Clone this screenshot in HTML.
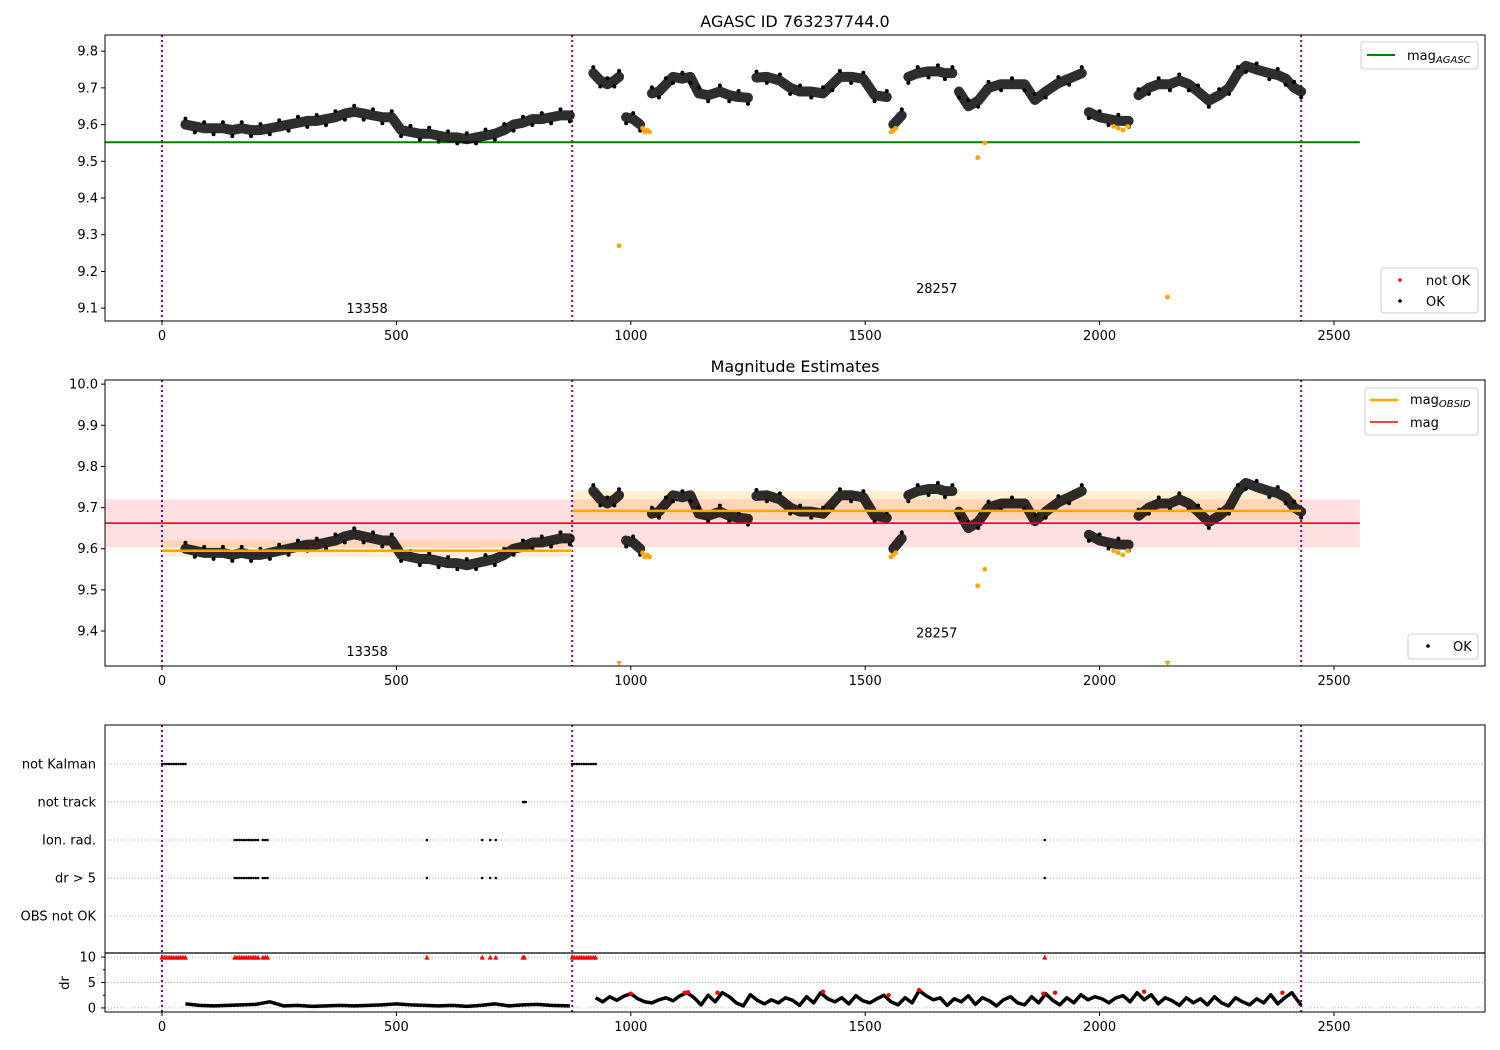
<!DOCTYPE html>
<html><head><meta charset="utf-8">
<style>
body{margin:0;background:#fff;}
svg{display:block;font-family:"DejaVu Sans","Liberation Sans",sans-serif;}
</style></head>
<body>
<svg id="chart" width="1500" height="1050" viewBox="0 0 1500 1050" xmlns="http://www.w3.org/2000/svg"></svg>
<script>
// ---- data ----
const okT = [50,70,90,110,130,150,170,190,210,230,250,270,290,310,330,350,370,390,410,430,450,470,490,510,530,550,570,590,610,630,650,670,690,710,730,750,770,790,810,830,850,870,
920,935,950,965,975,990,1005,1020,1045,1060,1075,1090,1110,1127,1145,1165,1190,1210,1230,1250,1268,1290,1318,1340,1361,1385,1410,1430,1446,1470,1496,1520,1546,1560,1578,
1592,1612,1635,1655,1670,1686,1700,1720,1741,1763,1790,1813,1840,1862,1885,1912,1935,1962,1977,2000,2019,2040,2062,2083,2105,2126,2150,2170,2190,2210,2233,2255,2276,2295,2312,2335,2362,2380,2397,2415,2430];
const okMag = [9.60,9.595,9.59,9.59,9.59,9.585,9.59,9.585,9.585,9.59,9.595,9.60,9.605,9.61,9.61,9.615,9.62,9.63,9.635,9.63,9.625,9.62,9.62,9.585,9.58,9.575,9.575,9.57,9.565,9.565,9.56,9.565,9.57,9.575,9.585,9.60,9.605,9.615,9.615,9.62,9.625,9.625,
9.74,9.72,9.71,9.72,9.73,9.62,9.615,9.60,9.685,9.69,9.71,9.73,9.725,9.73,9.685,9.68,9.69,9.68,9.675,9.673,9.728,9.73,9.72,9.70,9.69,9.69,9.685,9.71,9.73,9.73,9.725,9.68,9.675,9.60,9.625,
9.73,9.74,9.745,9.745,9.74,9.74,9.69,9.65,9.665,9.70,9.71,9.71,9.71,9.667,9.69,9.713,9.725,9.74,9.634,9.62,9.615,9.61,9.61,9.68,9.70,9.71,9.71,9.72,9.71,9.69,9.665,9.68,9.70,9.74,9.76,9.75,9.74,9.735,9.725,9.70,9.69];
const badT = [975,1025,1030,1035,1040,1555,1560,1565,1740,1755,2030,2040,2050,2060,2145];
const badMag = [9.27,9.59,9.58,9.585,9.58,9.58,9.585,9.59,9.51,9.55,9.595,9.59,9.585,9.595,9.13];
const magAgasc = 9.552;
const magAll = 9.662, magAllLo = 9.603, magAllHi = 9.72;
const obsStart = [0,875], obsEnd = [875,2430];
const obsMag = [9.595,9.692], obsLo = [9.58,9.67], obsHi = [9.62,9.74];
const obsIds = ["13358","28257"];
const obsLabelMag1 = [9.10,9.155], obsLabelMag2 = [9.351,9.396];
const vLines = [0,875,2430];
const xTicks = [0,500,1000,1500,2000,2500];
const yTicks1 = [9.1,9.2,9.3,9.4,9.5,9.6,9.7,9.8];
const yTicks2 = [9.4,9.5,9.6,9.7,9.8,9.9,10.0];
const flagNames = ["OBS not OK","dr > 5","Ion. rad.","not track","not Kalman"];
const kalmanT = [0,5,10,15,20,25,30,35,40,45,50,875,880,885,890,895,900,905,910,915,920,925];
const trackT = [770,773,776];
const ionT = [155,160,165,170,175,180,185,190,195,200,205,215,220,225,565,683,700,712,1883];
const drT = [50,80,110,140,170,200,230,260,290,320,350,380,410,440,470,500,530,560,590,620,650,680,710,740,770,800,830,870,
925,940,955,970,985,1000,1015,1030,1045,1060,1075,1090,1105,1120,1135,1150,1165,1180,1195,1210,1225,1240,1255,1270,1285,1300,1315,1330,1345,1360,1375,1390,1405,1420,1435,1450,1465,1480,1495,1510,1525,1540,1555,1570,1585,1600,1615,1630,1645,1660,1675,1690,1705,1720,1735,1750,1765,1780,1795,1810,1825,1840,1855,1870,1885,1900,1915,1930,1945,1960,1975,1990,2005,2020,2035,2050,2065,2080,2095,2110,2125,2140,2155,2170,2185,2200,2215,2230,2245,2260,2275,2290,2305,2320,2335,2350,2365,2380,2395,2410,2430];
const drVal = [0.8,0.5,0.4,0.5,0.6,0.7,1.2,0.4,0.5,0.3,0.4,0.5,0.4,0.5,0.6,0.8,0.6,0.5,0.4,0.5,0.3,0.5,0.8,0.4,0.6,0.7,0.5,0.4,
2.0,1.2,2.2,1.5,2.3,2.8,1.8,1.2,1.0,1.6,2.0,1.4,2.4,3.0,2.0,0.6,2.5,1.2,3.0,2.2,1.0,0.4,2.6,1.5,0.8,1.6,1.0,2.0,1.5,0.5,2.2,1.0,3.0,1.8,1.2,2.0,0.8,2.4,1.4,1.0,1.8,2.5,1.2,0.6,2.0,1.0,3.4,2.4,1.6,2.0,0.5,1.8,1.2,2.4,0.7,2.0,1.4,0.4,1.6,2.2,1.0,0.6,2.2,1.0,2.8,1.5,0.6,2.0,1.0,2.6,1.6,2.2,1.8,1.0,2.0,2.4,1.2,3.0,1.6,2.6,0.8,2.0,1.4,0.5,2.0,1.0,1.8,0.6,2.2,1.0,0.4,2.0,1.2,0.6,1.8,1.0,2.6,0.8,2.0,3.0,0.5];
const drBadT = [1000,1115,1122,1185,1410,1550,1615,1880,1905,2095,2390];
const drBadVal = [2.8,3.0,3.1,3.0,3.2,2.5,3.5,2.8,3.0,3.2,3.0];
const drCapT = [0,5,10,15,20,25,30,35,40,45,50,155,160,165,170,175,180,185,190,195,200,205,215,220,225,565,683,700,712,770,773,875,880,885,890,895,900,905,910,915,920,925,1883];
const drCapVal = drCapT.map(()=>10);

// ---- helpers ----
const svg = document.getElementById('chart');
const NS = 'http://www.w3.org/2000/svg';
function mk(tag, attrs, parent){const e=document.createElementNS(NS,tag);for(const k in attrs)e.setAttribute(k,attrs[k]);(parent||svg).appendChild(e);return e;}
function txt(x,y,s,attrs,parent){const e=mk('text',Object.assign({x:x,y:y},attrs),parent);e.textContent=s;return e;}
const X0=105,X1=1485;
const xs = t => 162 + t*0.4688;
function yScale(top,bot,vmax,vmin){return v=> top + (vmax-v)/(vmax-vmin)*(bot-top);}

function frame(y0,y1,name){
  const r=mk('rect',{x:X0,y:y0,width:X1-X0,height:y1-y0,fill:'none',stroke:'#000','stroke-width':1});
  
  
}
function xAxis(yb,name){
  const g=mk('g',{});
  
  
  xTicks.forEach(t=>{mk('line',{x1:xs(t),x2:xs(t),y1:yb,y2:yb+4,stroke:'#000'},g);txt(xs(t),yb+19,String(t),{'font-size':13,'text-anchor':'middle'},g);});
}
function yAxis(ticks,ys,name){
  const g=mk('g',{});
  
  
  ticks.forEach(v=>{mk('line',{x1:X0-4,x2:X0,y1:ys(v),y2:ys(v),stroke:'#000'},g);txt(X0-7,ys(v)+4.5,v.toFixed(1),{'font-size':13,'text-anchor':'end'},g);});
}
function vlines(y0,y1){
  vLines.forEach(t=>{const l=mk('line',{x1:xs(t),x2:xs(t),y1:y0,y2:y1,stroke:'#800080','stroke-width':2,'stroke-dasharray':'2,3'});
  
  });
}
function okSeries(ys,name){
  const g=mk('g',{});
  
  
  let seg=[];
  const flush=()=>{if(seg.length>1)mk('polyline',{points:seg.join(' '),fill:'none',stroke:'#000','stroke-opacity':0.82,'stroke-width':10,'stroke-linejoin':'round','stroke-linecap':'round'},g);seg=[];};
  okT.forEach((t,i)=>{
    if(i>0 && (t-okT[i-1]>30 || Math.abs(okMag[i]-okMag[i-1])>0.05)) flush();
    seg.push(xs(t)+','+ys(okMag[i]));
  });
  flush();
  okT.forEach((t,i)=>mk('circle',{cx:xs(t),cy:ys(okMag[i])+(i%2?6:-6),r:2,fill:'#000'},g));
}
function badSeries(ys,ymin,yb,name){
  const g=mk('g',{});
  
  
  badT.forEach((t,i)=>{
    if(badMag[i]<ymin){const x=xs(t);mk('path',{d:`M${x-3},${yb-5} L${x+3},${yb-5} L${x},${yb} Z`,fill:'orange'},g);}
    else mk('circle',{cx:xs(t),cy:ys(badMag[i]),r:2.4,fill:'orange'},g);
  });
}

// ---- panel 1 ----
const P1={y0:35,y1:321}; const ys1=yScale(35,321,9.844,9.065);
txt(795,27,'AGASC ID 763237744.0',{'font-size':16,'text-anchor':'middle',});
vlines(P1.y0,P1.y1);
const ag=mk('line',{x1:X0,x2:xs(2555),y1:ys1(magAgasc),y2:ys1(magAgasc),stroke:'green','stroke-width':2});


okSeries(ys1,'ok-points-top');
badSeries(ys1,9.065,P1.y1,'not-ok-points-top');
obsIds.forEach((s,i)=>{const e=txt(xs((obsStart[i]+obsEnd[i])/2),ys1(obsLabelMag1[i])+5,s,{'font-size':13,'text-anchor':'middle'});

});
frame(P1.y0,P1.y1,'top-axes');
xAxis(P1.y1,'top-x-axis'); yAxis(yTicks1,ys1,'top-y-axis');
(function(){
 const g=mk('g',{});
 
 
 mk('rect',{x:1361,y:42,width:117,height:27,rx:3,fill:'#fff',stroke:'#ccc'},g);
 mk('line',{x1:1367,x2:1395,y1:55,y2:55,stroke:'green','stroke-width':2},g);
 const t=txt(1407,60,'mag',{'font-size':13},g); const s=mk('tspan',{'font-size':10,'font-style':'italic',dy:3},t); s.textContent='AGASC';
 const g2=mk('g',{});
 
 
 mk('rect',{x:1381,y:268,width:97,height:45,rx:3,fill:'#fff',stroke:'#ccc'},g2);
 mk('circle',{cx:1400,cy:280,r:1.8,fill:'red'},g2); txt(1426,285,'not OK',{'font-size':13},g2);
 mk('circle',{cx:1400,cy:301,r:1.8,fill:'#000'},g2); txt(1426,306,'OK',{'font-size':13},g2);
})();

// ---- panel 2 ----
const P2={y0:380,y1:666}; const ys2=yScale(380,666,10.01,9.315);
txt(795,372,'Magnitude Estimates',{'font-size':16,'text-anchor':'middle',});
const band=mk('rect',{x:X0,y:ys2(magAllHi),width:xs(2555)-X0,height:ys2(magAllLo)-ys2(magAllHi),fill:'red','fill-opacity':0.12});


obsStart.forEach((s,i)=>{
  const b=mk('rect',{x:xs(s),y:ys2(obsHi[i]),width:xs(obsEnd[i])-xs(s),height:ys2(obsLo[i])-ys2(obsHi[i]),fill:'orange','fill-opacity':0.18});
  
  
});
vlines(P2.y0,P2.y1);
okSeries(ys2,'ok-points-mid');
badSeries(ys2,9.315,P2.y1,'not-ok-points-mid');
obsStart.forEach((s,i)=>{
  const l=mk('line',{x1:xs(s),x2:xs(obsEnd[i]),y1:ys2(obsMag[i]),y2:ys2(obsMag[i]),stroke:'orange','stroke-width':2.5});
  
  
});
const ml=mk('line',{x1:X0,x2:xs(2555),y1:ys2(magAll),y2:ys2(magAll),stroke:'red','stroke-width':1.6});


obsIds.forEach((s,i)=>{const e=txt(xs((obsStart[i]+obsEnd[i])/2),ys2(obsLabelMag2[i])+5,s,{'font-size':13,'text-anchor':'middle'});

});
frame(P2.y0,P2.y1,'mid-axes');
xAxis(P2.y1,'mid-x-axis'); yAxis(yTicks2,ys2,'mid-y-axis');
(function(){
 const g=mk('g',{});
 
 
 mk('rect',{x:1365,y:388,width:113,height:47,rx:3,fill:'#fff',stroke:'#ccc'},g);
 mk('line',{x1:1370,x2:1398,y1:400,y2:400,stroke:'orange','stroke-width':2.5},g);
 const t=txt(1410,404,'mag',{'font-size':13},g); const s=mk('tspan',{'font-size':10,'font-style':'italic',dy:3},t); s.textContent='OBSID';
 mk('line',{x1:1370,x2:1398,y1:422,y2:422,stroke:'red','stroke-width':1.6},g);
 txt(1410,427,'mag',{'font-size':13},g);
 const g2=mk('g',{});
 
 
 mk('rect',{x:1408,y:634,width:70,height:25,rx:3,fill:'#fff',stroke:'#ccc'},g2);
 mk('circle',{cx:1428,cy:646,r:1.8,fill:'#000'},g2); txt(1453,651,'OK',{'font-size':13},g2);
})();

// ---- panel 3 ----
const fy = i => 916 - i*38;
flagNames.forEach((n,i)=>{
  const gl=mk('line',{x1:X0,x2:X1,y1:fy(i),y2:fy(i),stroke:'#b0b0b0','stroke-dasharray':'1,2'});
  
  
  const l=txt(96,fy(i)+4.5,n,{'font-size':13,'text-anchor':'end'});
  
  
});
const ysd=yScale(953,1012,10.8,-0.8);
[0,5,10].forEach(v=>{const gl=mk('line',{x1:X0,x2:X1,y1:ysd(v),y2:ysd(v),stroke:'#b0b0b0','stroke-dasharray':'1,2'});

});
vlines(725,1012);
function flagDots(ts,row,name){
  const g=mk('g',{});
  
  
  ts.forEach(t=>mk('circle',{cx:xs(t),cy:fy(row),r:1.3,fill:'#000'},g));
}
flagDots(kalmanT,4,'flag-not-kalman');
flagDots(trackT,3,'flag-not-track');
flagDots(ionT,2,'flag-ion-rad');
flagDots(ionT,1,'flag-dr5');
(function(){
  const g=mk('g',{});
  
  
  let seg=[];
  const flush=()=>{if(seg.length>1)mk('polyline',{points:seg.join(' '),fill:'none',stroke:'#000','stroke-width':3.5,'stroke-linejoin':'round'},g);seg=[];};
  drT.forEach((t,i)=>{if(i>0&&t-drT[i-1]>40)flush();seg.push(xs(t)+','+ysd(drVal[i]));});
  flush();
  drBadT.forEach((t,i)=>mk('circle',{cx:xs(t),cy:ysd(drBadVal[i]),r:2.2,fill:'red'},g));
  drCapT.forEach((t,i)=>{const x=xs(t),y=ysd(drCapVal[i]);mk('path',{d:`M${x-2.5},${y+2.5} L${x+2.5},${y+2.5} L${x},${y-2.5} Z`,fill:'red'},g);});
})();
mk('rect',{x:X0,y:725,width:X1-X0,height:287,fill:'none',stroke:'#000'});
const sep=mk('line',{x1:X0,x2:X1,y1:953,y2:953,stroke:'#000','stroke-width':1.2});


[0,5,10].forEach(v=>{mk('line',{x1:X0-4,x2:X0,y1:ysd(v),y2:ysd(v),stroke:'#000'});txt(96,ysd(v)+4.5,String(v),{'font-size':13,'text-anchor':'end',});});
[2.5,7.5].forEach(v=>mk('line',{x1:X0-2,x2:X0,y1:ysd(v),y2:ysd(v),stroke:'#000'}));
txt(0,0,'dr',{'font-size':13,'text-anchor':'middle',transform:'translate(69,983) rotate(-90)',});
xAxis(1012,'bottom-x-axis');
</script>
</body></html>
